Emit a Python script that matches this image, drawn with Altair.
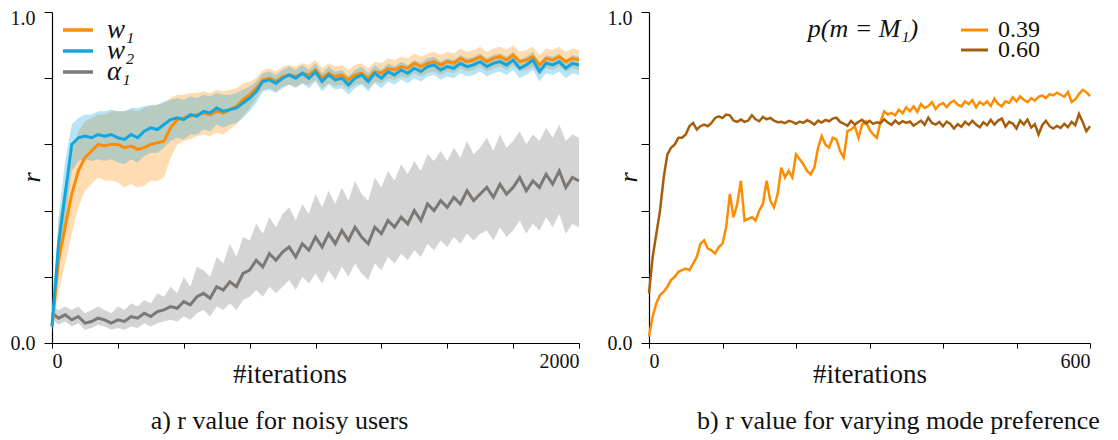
import altair as alt
import pandas as pd

SERIF = "Liberation Serif"
LEFT_STEP = 25
RIGHT_STEP = 5

# ---------------- left panel (iterations 0..2000, every 25) ----------------
w1 = [0.05, 0.25, 0.35, 0.45, 0.52, 0.56, 0.58, 0.60, 0.595, 0.60, 0.60, 0.59, 0.595, 0.585, 0.59, 0.60,
      0.605, 0.61, 0.65, 0.675, 0.68, 0.685, 0.69, 0.695, 0.69, 0.70, 0.695, 0.705, 0.715, 0.735, 0.75,
      0.77, 0.795, 0.80, 0.79, 0.805, 0.81, 0.805, 0.815, 0.81, 0.825, 0.80, 0.815, 0.805, 0.81, 0.795,
      0.81, 0.815, 0.80, 0.82, 0.815, 0.83, 0.825, 0.835, 0.83, 0.845, 0.835, 0.845, 0.85, 0.84, 0.85,
      0.845, 0.86, 0.85, 0.855, 0.865, 0.85, 0.86, 0.865, 0.855, 0.87, 0.85, 0.855, 0.865, 0.84, 0.86,
      0.855, 0.865, 0.85, 0.86, 0.855]
w1_lo = [0.03, 0.15, 0.24, 0.33, 0.41, 0.46, 0.48, 0.50, 0.49, 0.49, 0.485, 0.47, 0.48, 0.47, 0.475, 0.49,
         0.49, 0.50, 0.56, 0.60, 0.61, 0.615, 0.625, 0.63, 0.625, 0.635, 0.63, 0.645, 0.66, 0.685, 0.71,
         0.74, 0.765, 0.77, 0.76, 0.775, 0.78, 0.775, 0.785, 0.78, 0.795, 0.77, 0.785, 0.775, 0.78, 0.765,
         0.78, 0.785, 0.77, 0.79, 0.785, 0.80, 0.795, 0.805, 0.80, 0.815, 0.805, 0.815, 0.82, 0.81, 0.82,
         0.815, 0.83, 0.82, 0.825, 0.835, 0.82, 0.83, 0.835, 0.825, 0.84, 0.82, 0.825, 0.835, 0.81, 0.83,
         0.825, 0.835, 0.82, 0.83, 0.825]
w1_hi = [0.07, 0.36, 0.48, 0.58, 0.64, 0.67, 0.68, 0.69, 0.69, 0.70, 0.70, 0.70, 0.705, 0.70, 0.71, 0.715,
         0.72, 0.725, 0.74, 0.75, 0.75, 0.755, 0.755, 0.76, 0.755, 0.765, 0.76, 0.765, 0.77, 0.785, 0.79,
         0.80, 0.825, 0.83, 0.82, 0.835, 0.84, 0.835, 0.845, 0.84, 0.855, 0.83, 0.845, 0.835, 0.84, 0.825,
         0.84, 0.845, 0.83, 0.85, 0.845, 0.86, 0.855, 0.865, 0.86, 0.875, 0.865, 0.875, 0.88, 0.87, 0.88,
         0.875, 0.89, 0.88, 0.885, 0.895, 0.88, 0.89, 0.895, 0.885, 0.90, 0.88, 0.885, 0.895, 0.87, 0.89,
         0.885, 0.895, 0.88, 0.89, 0.885]

w2 = [0.05, 0.30, 0.45, 0.60, 0.62, 0.625, 0.62, 0.63, 0.625, 0.63, 0.62, 0.615, 0.63, 0.62, 0.64, 0.65,
      0.645, 0.66, 0.675, 0.68, 0.675, 0.69, 0.685, 0.70, 0.695, 0.71, 0.70, 0.705, 0.71, 0.725, 0.74,
      0.76, 0.79, 0.795, 0.785, 0.80, 0.81, 0.80, 0.815, 0.80, 0.82, 0.79, 0.81, 0.795, 0.80, 0.78, 0.80,
      0.81, 0.79, 0.815, 0.80, 0.82, 0.81, 0.825, 0.815, 0.83, 0.82, 0.835, 0.84, 0.825, 0.835, 0.83,
      0.845, 0.835, 0.84, 0.85, 0.835, 0.845, 0.85, 0.84, 0.855, 0.83, 0.84, 0.855, 0.82, 0.845, 0.84,
      0.85, 0.83, 0.845, 0.84]
w2_lo = [0.03, 0.22, 0.36, 0.52, 0.55, 0.555, 0.55, 0.555, 0.55, 0.555, 0.545, 0.54, 0.555, 0.545, 0.565,
         0.575, 0.575, 0.59, 0.61, 0.62, 0.615, 0.63, 0.63, 0.645, 0.64, 0.66, 0.65, 0.66, 0.665, 0.68,
         0.70, 0.725, 0.76, 0.765, 0.755, 0.77, 0.78, 0.77, 0.785, 0.77, 0.79, 0.76, 0.78, 0.765, 0.77,
         0.75, 0.77, 0.78, 0.76, 0.785, 0.77, 0.79, 0.78, 0.795, 0.785, 0.80, 0.79, 0.805, 0.81, 0.795,
         0.805, 0.80, 0.815, 0.805, 0.81, 0.82, 0.805, 0.815, 0.82, 0.81, 0.825, 0.80, 0.81, 0.825, 0.79,
         0.815, 0.81, 0.82, 0.80, 0.815, 0.81]
w2_hi = [0.07, 0.38, 0.55, 0.66, 0.68, 0.69, 0.69, 0.70, 0.70, 0.705, 0.70, 0.70, 0.71, 0.71, 0.715, 0.72,
         0.72, 0.73, 0.735, 0.74, 0.735, 0.745, 0.74, 0.75, 0.745, 0.755, 0.75, 0.75, 0.755, 0.765, 0.775,
         0.79, 0.815, 0.82, 0.81, 0.825, 0.835, 0.825, 0.84, 0.825, 0.845, 0.815, 0.835, 0.82, 0.825,
         0.805, 0.825, 0.835, 0.815, 0.84, 0.825, 0.845, 0.835, 0.85, 0.84, 0.855, 0.845, 0.86, 0.865,
         0.85, 0.86, 0.855, 0.87, 0.86, 0.865, 0.875, 0.86, 0.87, 0.875, 0.865, 0.88, 0.855, 0.865, 0.88,
         0.845, 0.87, 0.865, 0.875, 0.855, 0.87, 0.865]

a1 = [0.09, 0.075, 0.085, 0.07, 0.08, 0.06, 0.065, 0.075, 0.07, 0.06, 0.07, 0.065, 0.08, 0.075, 0.09,
      0.08, 0.095, 0.10, 0.11, 0.105, 0.125, 0.115, 0.14, 0.15, 0.135, 0.17, 0.16, 0.185, 0.17, 0.21,
      0.22, 0.25, 0.23, 0.27, 0.25, 0.275, 0.29, 0.26, 0.30, 0.28, 0.32, 0.29, 0.33, 0.30, 0.34, 0.31,
      0.35, 0.32, 0.30, 0.35, 0.33, 0.37, 0.35, 0.38, 0.36, 0.40, 0.37, 0.42, 0.40, 0.43, 0.41, 0.44,
      0.42, 0.46, 0.43, 0.45, 0.47, 0.44, 0.48, 0.45, 0.47, 0.50, 0.46, 0.49, 0.47, 0.51, 0.48, 0.52,
      0.47, 0.50, 0.49]
a1_lo = [0.07, 0.055, 0.065, 0.05, 0.06, 0.04, 0.045, 0.055, 0.05, 0.04, 0.045, 0.04, 0.05, 0.045, 0.06,
         0.05, 0.06, 0.065, 0.07, 0.065, 0.08, 0.07, 0.09, 0.10, 0.08, 0.11, 0.10, 0.12, 0.10, 0.13, 0.14,
         0.16, 0.14, 0.17, 0.15, 0.17, 0.19, 0.16, 0.20, 0.18, 0.21, 0.18, 0.22, 0.19, 0.23, 0.20, 0.24,
         0.21, 0.19, 0.24, 0.22, 0.26, 0.24, 0.27, 0.25, 0.28, 0.26, 0.30, 0.28, 0.31, 0.29, 0.32, 0.30,
         0.33, 0.31, 0.33, 0.34, 0.31, 0.35, 0.32, 0.34, 0.37, 0.33, 0.36, 0.34, 0.38, 0.35, 0.39, 0.33,
         0.36, 0.35]
a1_hi = [0.11, 0.10, 0.11, 0.10, 0.11, 0.09, 0.10, 0.11, 0.10, 0.09, 0.11, 0.10, 0.12, 0.11, 0.13, 0.12,
         0.15, 0.14, 0.17, 0.15, 0.20, 0.17, 0.23, 0.22, 0.20, 0.26, 0.24, 0.30, 0.26, 0.32, 0.31, 0.36,
         0.33, 0.38, 0.35, 0.39, 0.41, 0.37, 0.42, 0.39, 0.45, 0.41, 0.46, 0.42, 0.47, 0.43, 0.49, 0.45,
         0.43, 0.50, 0.47, 0.52, 0.49, 0.54, 0.51, 0.55, 0.52, 0.57, 0.55, 0.58, 0.55, 0.59, 0.56, 0.61,
         0.57, 0.59, 0.62, 0.58, 0.63, 0.59, 0.61, 0.64, 0.60, 0.63, 0.61, 0.65, 0.62, 0.66, 0.61, 0.63,
         0.62]

# ---------------- right panel (iterations 0..600, every 5) ----------------
p039 = [0.02, 0.08, 0.12, 0.145, 0.155, 0.17, 0.19, 0.20, 0.215, 0.22, 0.225, 0.22, 0.24, 0.26, 0.30,
        0.31, 0.285, 0.28, 0.27, 0.29, 0.30, 0.35, 0.45, 0.38, 0.42, 0.49, 0.37, 0.375, 0.38, 0.37, 0.40,
        0.42, 0.49, 0.43, 0.41, 0.45, 0.53, 0.50, 0.52, 0.50, 0.57, 0.555, 0.54, 0.52, 0.51, 0.53, 0.59,
        0.625, 0.60, 0.59, 0.62, 0.615, 0.58, 0.56, 0.64, 0.645, 0.655, 0.62, 0.66, 0.67, 0.645, 0.63,
        0.62, 0.67, 0.70, 0.69, 0.695, 0.688, 0.705, 0.694, 0.712, 0.70, 0.715, 0.698, 0.722, 0.71,
        0.716, 0.728, 0.707, 0.72, 0.725, 0.713, 0.726, 0.732, 0.72, 0.715, 0.73, 0.722, 0.734, 0.712,
        0.728, 0.72, 0.73, 0.716, 0.738, 0.722, 0.715, 0.73, 0.725, 0.742, 0.73, 0.745, 0.735, 0.728,
        0.74, 0.732, 0.744, 0.748, 0.74, 0.752, 0.748, 0.756, 0.75, 0.744, 0.758, 0.728, 0.736, 0.752,
        0.765, 0.758, 0.746]
p060 = [0.15, 0.26, 0.33, 0.40, 0.50, 0.57, 0.59, 0.60, 0.62, 0.62, 0.63, 0.655, 0.665, 0.645, 0.655,
        0.66, 0.655, 0.665, 0.68, 0.685, 0.68, 0.69, 0.688, 0.672, 0.668, 0.675, 0.668, 0.672, 0.688,
        0.676, 0.67, 0.683, 0.676, 0.68, 0.672, 0.667, 0.668, 0.664, 0.671, 0.668, 0.662, 0.669, 0.665,
        0.673, 0.668, 0.66, 0.672, 0.666, 0.674, 0.67, 0.678, 0.681, 0.668, 0.663, 0.656, 0.671, 0.66,
        0.668, 0.674, 0.663, 0.671, 0.662, 0.667, 0.664, 0.676, 0.666, 0.659, 0.672, 0.662, 0.67, 0.665,
        0.669, 0.657, 0.664, 0.672, 0.659, 0.681, 0.665, 0.66, 0.668, 0.655, 0.669, 0.662, 0.648, 0.661,
        0.653, 0.668, 0.659, 0.671, 0.66, 0.652, 0.667, 0.658, 0.674, 0.66, 0.672, 0.678, 0.654, 0.668,
        0.663, 0.648, 0.672, 0.66, 0.675, 0.651, 0.661, 0.63, 0.658, 0.671, 0.655, 0.648, 0.656, 0.65,
        0.662, 0.652, 0.668, 0.658, 0.692, 0.668, 0.64, 0.655]

left_series = ["w\u2081", "w\u2082", "\u03b1\u2081"]
left_colors = ["#ff8c00", "#12a6e0", "#7b7875"]
band_colors = ["#ff8c00", "#12a6e0", "#bdbdbd"]
band_opacity = [0.3, 0.3, 0.65]
right_series = ["0.39", "0.60"]
right_colors = ["#ff8c00", "#a65e0c"]

left_title = "a) r value for noisy users"
right_title = "b) r value for varying mode preference"
legend_title_right = "p(m = M\u2081)"


def line_df(vals, step, name):
    return pd.DataFrame({"it": [i * step for i in range(len(vals))], "r": vals, "s": name})


def band_df(lo, hi, step):
    n = min(len(lo), len(hi))
    return pd.DataFrame({"it": [i * step for i in range(n)], "lo": lo[:n], "hi": hi[:n]})


def y_axis():
    return alt.Axis(
        values=[0, 0.2, 0.4, 0.6, 0.8, 1],
        format=".1f",
        labelExpr="datum.value == 0 || datum.value == 1 ? datum.label : ''",
        labelOffset={"condition": {"test": "datum.value == 1", "value": 6}, "value": 0},
        title="r", titleFontStyle="italic", titleFont=SERIF, titleFontSize=26,
        titleFontWeight="normal", titleX=-21, titleY=165, titleAngle=-90,
        titleBaseline="middle", titleAlign="center", titleColor="#111",
        tickSize=8, labelPadding=9, grid=False,
        labelFont=SERIF, labelFontSize=20, labelColor="#111",
        domainColor="black", tickColor="black", domainWidth=1.2,
    )


def x_axis(maxv, step, title_x):
    return alt.Axis(
        values=list(range(0, maxv + 1, step)), format="d",
        labelExpr=f"datum.value == 0 || datum.value == {maxv} ? datum.label : ''",
        title="#iterations", titleFont=SERIF, titleFontSize=27, titleFontWeight="normal",
        titleY=31, titleX=title_x, titleBaseline="middle", titleColor="#111",
        tickSize=5, labelPadding=3, grid=False,
        labelFont=SERIF, labelFontSize=20, labelColor="#111",
        domainColor="black", tickColor="black", domainWidth=1.2,
    )


def legend_layers(names, colors, x0, x1, xt, y0, dy, width, size, italic):
    """Legend drawn as short strokes plus labels, placed in pixel space."""
    out = []
    for i, (name, col) in enumerate(zip(names, colors)):
        yy = y0 + dy * i
        out.append(alt.Chart(pd.DataFrame({"s": [name]})).mark_rule(
            color=col, strokeWidth=width).encode(
            x=alt.value(x0), x2=alt.value(x1), y=alt.value(yy)))
        out.append(alt.Chart(pd.DataFrame({"s": [name]})).mark_text(
            font=SERIF, fontSize=size, fontStyle="italic" if italic else "normal",
            align="left", baseline="middle", color="#111").encode(
            text="s:N", x=alt.value(xt), y=alt.value(yy)))
    return out


LW, LH = 527, 331
RW, RH = 441, 331

ysc = alt.Scale(domain=[0, 1], nice=False, zero=False)

# left panel
lx = alt.X("it:Q", scale=alt.Scale(domain=[0, 2000], nice=False, zero=False), axis=x_axis(2000, 250, LW / 2 - 26))
left_color = alt.Color("s:N", scale=alt.Scale(domain=left_series, range=left_colors), legend=None)

bands = [(w1_lo, w1_hi), (w2_lo, w2_hi), (a1_lo, a1_hi)]
band_layers = []
for (lo, hi), col, op in zip([bands[2], bands[0], bands[1]], [band_colors[2], band_colors[0], band_colors[1]],
                             [band_opacity[2], band_opacity[0], band_opacity[1]]):
    band_layers.append(
        alt.Chart(band_df(lo, hi, LEFT_STEP)).mark_area(opacity=op, color=col, interpolate="linear").encode(
            x=lx, y=alt.Y("lo:Q", scale=ysc, axis=y_axis()), y2="hi:Q")
    )

line_layers = []
for vals, name in [(a1, left_series[2]), (w1, left_series[0]), (w2, left_series[1])]:
    line_layers.append(
        alt.Chart(line_df(vals, LEFT_STEP, name)).mark_line(strokeWidth=3).encode(
            x=lx, y=alt.Y("r:Q", scale=ysc, axis=y_axis()), color=left_color)
    )

left_leg = legend_layers(left_series, left_colors, 11, 41, 55, 18, 21, 3.5, 27, True)

left = alt.layer(*band_layers, *line_layers, *left_leg).properties(
    width=LW, height=LH,
    title=alt.TitleParams(left_title, orient="bottom", font=SERIF, fontSize=26, fontWeight="normal",
                          color="#111", offset=21, dx=-36, anchor="middle"),
)

# right panel
rx = alt.X("it:Q", scale=alt.Scale(domain=[0, 600], nice=False, zero=False), axis=x_axis(600, 100, RW / 2))
right_color = alt.Color("s:N", scale=alt.Scale(domain=right_series, range=right_colors), legend=None)
r_layers = []
for vals, name in [(p039, right_series[0]), (p060, right_series[1])]:
    r_layers.append(
        alt.Chart(line_df(vals, RIGHT_STEP, name)).mark_line(strokeWidth=2.5).encode(
            x=rx, y=alt.Y("r:Q", scale=ysc, axis=y_axis()), color=right_color)
    )
r_legend_title = alt.Chart(pd.DataFrame({"t": [legend_title_right]})).mark_text(
    font=SERIF, fontSize=26, fontStyle="italic", align="center", baseline="middle", color="#111"
).encode(text="t:N", x=alt.value(214), y=alt.value(17))

right_leg = legend_layers(right_series, right_colors, 312, 339, 349, 18, 20, 3, 24, False)

right = alt.layer(*r_layers, r_legend_title, *right_leg).properties(
    width=RW, height=RH,
    title=alt.TitleParams(right_title, orient="bottom", font=SERIF, fontSize=26, fontWeight="normal",
                          color="#111", offset=21, dx=29, anchor="middle"),
)

chart = alt.hconcat(left, right, spacing=22).resolve_scale(
    x="independent", y="independent", color="independent"
).properties(
    padding={"left": 2, "top": 0, "right": 0, "bottom": 0}
).configure(font=SERIF, background="white").configure_view(stroke=None)

chart.save("out.html", embed_options={"renderer": "svg", "actions": False})
